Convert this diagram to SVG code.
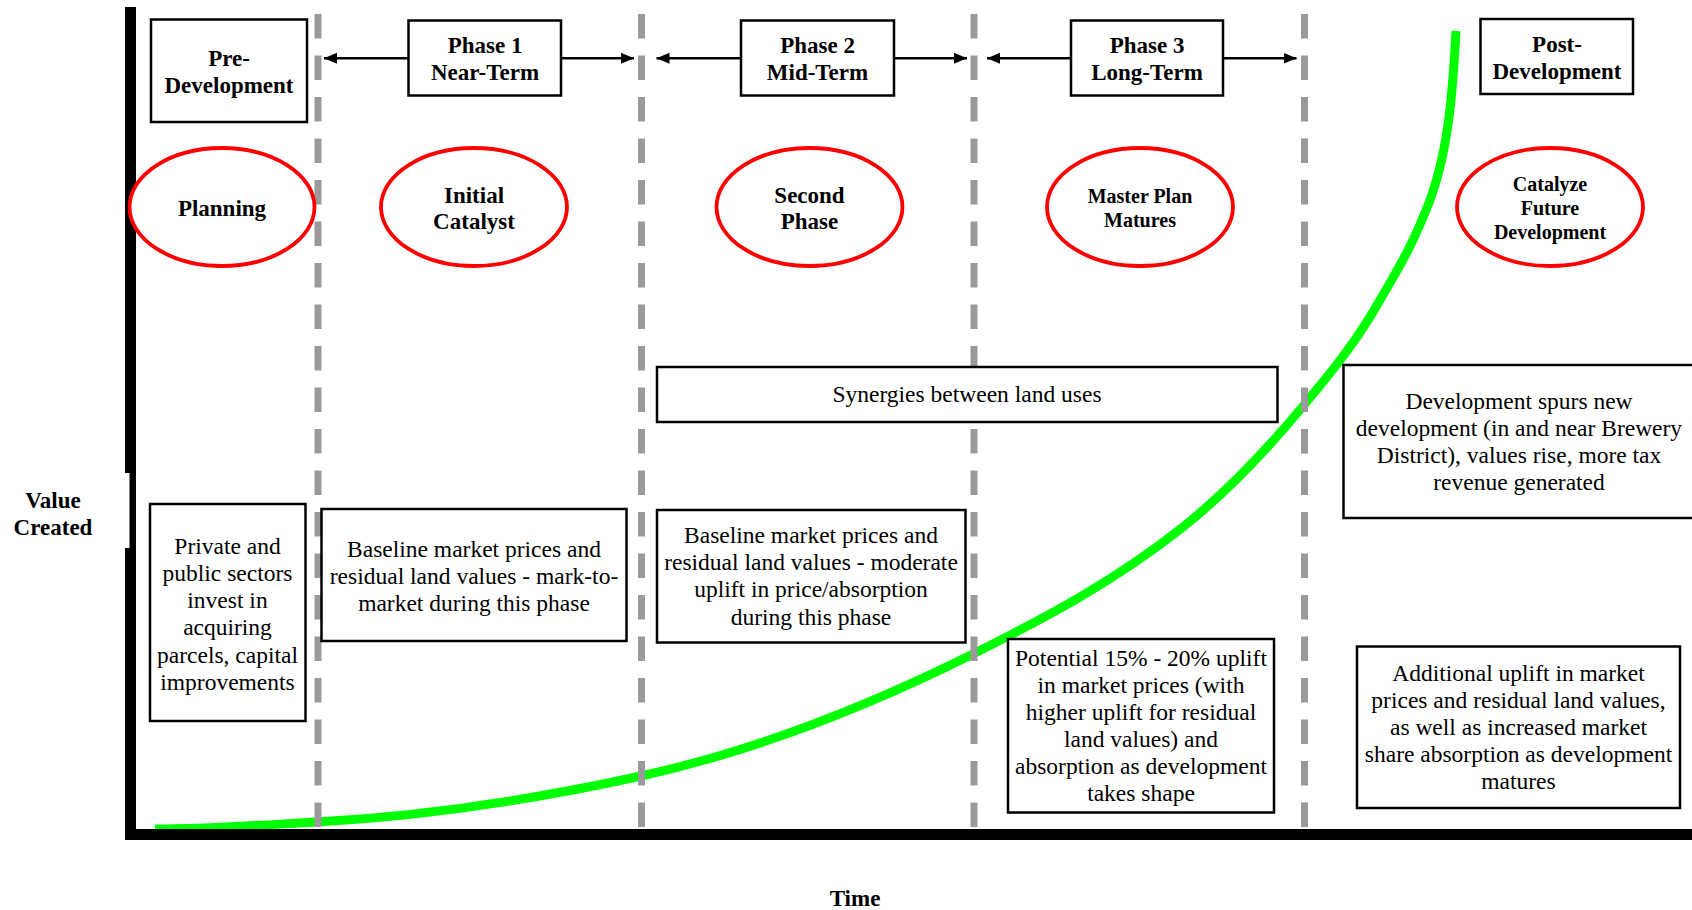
<svg xmlns="http://www.w3.org/2000/svg" width="1692" height="910" viewBox="0 0 1692 910">
<defs>
<style>
.box{fill:#fff;stroke:#000;stroke-width:2.5}
.oval{fill:#fff;stroke:#ff0000;stroke-width:3.8}
.t{font-family:"Liberation Serif","Times New Roman",serif;font-size:23.5px;fill:#000;text-anchor:middle}
.b{font-family:"Liberation Serif","Times New Roman",serif;font-weight:bold;font-size:23px;fill:#000;text-anchor:middle}
.bs{font-size:20px}
.dash{stroke:#9a9a9a;stroke-width:7;stroke-dasharray:24.5 17;fill:none}
.conn{stroke:#000;stroke-width:2.5;fill:none}
.curve{stroke:#00ff00;stroke-width:9;fill:none}
</style>
<marker id="ah" markerUnits="userSpaceOnUse" markerWidth="14" markerHeight="12" refX="13" refY="6" orient="auto"><path d="M0,0.5 L13,6 L0,11.5 z" fill="#000"/></marker>
</defs>
<rect width="1692" height="910" fill="#fff"/>

<g id="value-curve">
<path class="curve" d="M155,829 C209,829 263,825 317,822 C425,816.1 533,799.8 641,776 C752,751.6 864,708.5 975,653 C1044,618.3 1114,581.8 1183,527 C1223,495.2 1264,453.4 1304,405 C1329,374.6 1355,344.3 1380,300 C1397,270.8 1413,245.1 1430,200 C1449,148.7 1453,87 1456,31"/>
</g>

<g id="phase-dividers">
<line class="dash" x1="318" y1="14" x2="318" y2="828"/>
<line class="dash" x1="641.5" y1="14" x2="641.5" y2="828"/>
<line class="dash" x1="974" y1="14" x2="974" y2="828"/>
<line class="dash" x1="1304.5" y1="14" x2="1304.5" y2="828"/>
</g>

<g id="axes">
<rect x="125" y="7" width="11" height="833" fill="#000"/>
<rect x="125" y="829" width="1567" height="11" fill="#000"/>
<rect x="124" y="473" width="5.5" height="75" fill="#fff"/>
</g>

<g id="pre-development">
<rect class="box" x="151" y="19.5" width="156" height="102.5"/>
<text class="b" x="229" y="65.5">Pre-</text>
<text class="b" x="229" y="92.5">Development</text>
</g>
<g id="phase-1">
<rect class="box" x="408.5" y="20.5" width="152.5" height="75"/>
<text class="b" x="485" y="52.5">Phase 1</text>
<text class="b" x="485" y="79.5">Near-Term</text>
</g>
<g id="phase-2">
<rect class="box" x="741" y="20.5" width="153" height="75"/>
<text class="b" x="817.5" y="52.5">Phase 2</text>
<text class="b" x="817.5" y="79.5">Mid-Term</text>
</g>
<g id="phase-3">
<rect class="box" x="1071" y="20.5" width="152" height="75"/>
<text class="b" x="1147" y="52.5">Phase 3</text>
<text class="b" x="1147" y="79.5">Long-Term</text>
</g>
<g id="post-development">
<rect class="box" x="1480.5" y="19" width="152.5" height="75"/>
<text class="b" x="1557" y="52">Post-</text>
<text class="b" x="1557" y="79">Development</text>
</g>

<g id="connectors">
<line class="conn" x1="408.5" y1="58.3" x2="324" y2="58.3" marker-end="url(#ah)"/>
<line class="conn" x1="561" y1="58.3" x2="634" y2="58.3" marker-end="url(#ah)"/>
<line class="conn" x1="741" y1="58.3" x2="656.5" y2="58.3" marker-end="url(#ah)"/>
<line class="conn" x1="894" y1="58.3" x2="967" y2="58.3" marker-end="url(#ah)"/>
<line class="conn" x1="1071" y1="58.3" x2="987" y2="58.3" marker-end="url(#ah)"/>
<line class="conn" x1="1223" y1="58.3" x2="1296.5" y2="58.3" marker-end="url(#ah)"/>
</g>

<g id="planning">
<ellipse class="oval" cx="222" cy="207" rx="92.5" ry="59"/>
<text class="b" x="222" y="216">Planning</text>
</g>
<g id="initial-catalyst">
<ellipse class="oval" cx="474" cy="207" rx="93" ry="59"/>
<text class="b" x="474" y="203">Initial</text>
<text class="b" x="474" y="229">Catalyst</text>
</g>
<g id="second-phase">
<ellipse class="oval" cx="809.5" cy="207" rx="93" ry="59"/>
<text class="b" x="809.5" y="203">Second</text>
<text class="b" x="809.5" y="229">Phase</text>
</g>
<g id="master-plan-matures">
<ellipse class="oval" cx="1140" cy="207" rx="93" ry="59"/>
<text class="b bs" x="1140" y="202.5">Master Plan</text>
<text class="b bs" x="1140" y="226.5">Matures</text>
</g>
<g id="catalyze-future-development">
<ellipse class="oval" cx="1550" cy="207" rx="93" ry="59"/>
<text class="b bs" x="1550" y="190.5">Catalyze</text>
<text class="b bs" x="1550" y="215">Future</text>
<text class="b bs" x="1550" y="239">Development</text>
</g>

<g id="synergies">
<rect class="box" x="657" y="367" width="620.5" height="55"/>
<text class="t" x="967" y="402">Synergies between land uses</text>
</g>
<g id="development-spurs">
<rect class="box" x="1343.5" y="365" width="360" height="153"/>
<text class="t" x="1519" y="409">Development spurs new</text>
<text class="t" x="1519" y="436">development (in and near Brewery</text>
<text class="t" x="1519" y="463">District), values rise, more tax</text>
<text class="t" x="1519" y="490">revenue generated</text>
</g>
<g id="private-public">
<rect class="box" x="150" y="504" width="155.5" height="217"/>
<text class="t" x="227.5" y="554">Private and</text>
<text class="t" x="227.5" y="581">public sectors</text>
<text class="t" x="227.5" y="608">invest in</text>
<text class="t" x="227.5" y="635">acquiring</text>
<text class="t" x="227.5" y="663">parcels, capital</text>
<text class="t" x="227.5" y="690">improvements</text>
</g>
<g id="baseline-mark-to-market">
<rect class="box" x="321.5" y="509" width="305" height="132"/>
<text class="t" x="474" y="557">Baseline market prices and</text>
<text class="t" x="474" y="584">residual land values - mark-to-</text>
<text class="t" x="474" y="611">market during this phase</text>
</g>
<g id="baseline-moderate">
<rect class="box" x="657" y="510" width="308.5" height="132.5"/>
<text class="t" x="811" y="543">Baseline market prices and</text>
<text class="t" x="811" y="570">residual land values - moderate</text>
<text class="t" x="811" y="597">uplift in price/absorption</text>
<text class="t" x="811" y="624.5">during this phase</text>
</g>
<g id="potential-uplift">
<rect class="box" x="1008" y="639" width="266" height="173.5"/>
<text class="t" x="1141" y="666">Potential 15% - 20% uplift</text>
<text class="t" x="1141" y="693">in market prices (with</text>
<text class="t" x="1141" y="720">higher uplift for residual</text>
<text class="t" x="1141" y="747">land values) and</text>
<text class="t" x="1141" y="774">absorption as development</text>
<text class="t" x="1141" y="801">takes shape</text>
</g>
<g id="additional-uplift">
<rect class="box" x="1357" y="646.5" width="323" height="161.5"/>
<text class="t" x="1518.5" y="681">Additional uplift in market</text>
<text class="t" x="1518.5" y="708">prices and residual land values,</text>
<text class="t" x="1518.5" y="735">as well as increased market</text>
<text class="t" x="1518.5" y="762">share absorption as development</text>
<text class="t" x="1518.5" y="789">matures</text>
</g>

<g id="axis-labels">
<text class="b" x="53" y="508">Value</text>
<text class="b" x="53" y="534.5">Created</text>
<text class="b" x="855" y="906">Time</text>
</g>
</svg>
